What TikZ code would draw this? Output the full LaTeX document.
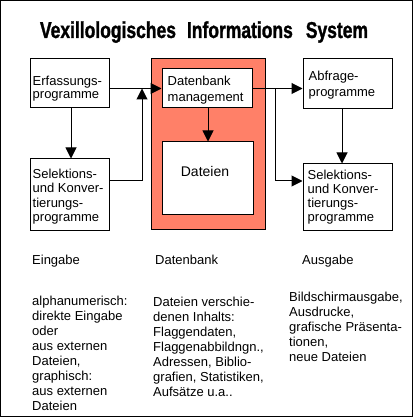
\documentclass[tikz,border=0pt]{standalone}
\usepackage{fontspec}
\setmainfont{Liberation Sans}
\newfontfamily\titlefont[FakeStretch=0.76,FakeBold=1.2]{Liberation Sans}
\usetikzlibrary{arrows.meta,calc}
\definecolor{dbred}{RGB}{255,128,104}
\tikzset{
  box/.style={draw=black, line width=1pt, fill=white, minimum width=#1, inner sep=0pt},
  conn/.style={draw=black, line width=1pt},
  arr/.style={conn, -{Triangle[length=11pt,width=11pt]}},
  txt/.style={inner sep=0pt, align=left, font=\fontsize{13}{14.3}\selectfont},
  txtwide/.style={inner sep=0pt, align=left, font=\fontsize{13}{16}\selectfont},
  col/.style={inner sep=0pt, align=left, anchor=north west, font=\fontsize{13}{15}\selectfont},
  head/.style={inner sep=0pt, anchor=base west, font=\fontsize{13}{15}\selectfont}
}
\begin{document}
\begin{tikzpicture}[x=1pt,y=-1pt]
\useasboundingbox (0,0) rectangle (415,419);
\draw[line width=1.2pt] (0.6,0.6) rectangle (412.4,416.2);

% title
\node[inner sep=0pt, anchor=base, font=\titlefont\bfseries\fontsize{23}{26}\selectfont] (title) at (204,38)
  {Vexillologisches\hspace{11pt}Informations\hspace{13pt}System};

% database block
\node[draw=black, line width=1pt, fill=dbred, minimum width=114pt, minimum height=170pt, inner sep=0pt] (red) at (208,144) {};

\node[box=79pt, minimum height=49pt,
  label={[txt, anchor=west, xshift=3pt, yshift=-5pt, font=\fontsize{13}{13.5}\selectfont]west:Erfassungs-\\programme}] (erf) at (69.5,83.5) {};
\node[box=79pt, minimum height=71pt,
  label={[txt, anchor=west, xshift=3pt, yshift=-2pt]west:Selektions-\\und Konver-\\tierungs-\\programme}] (selL) at (69.5,194.5) {};
\node[box=90pt, minimum height=39pt,
  label={[txtwide, anchor=west, xshift=6pt, yshift=-1.5pt]west:Datenbank\\management}] (dbm) at (207,88.5) {};
\node[box=91pt, minimum height=72pt,
  label={[txt, anchor=center, xshift=-2.5pt, yshift=7pt, font=\fontsize{14}{16}\selectfont]center:Dateien}] (dat) at (207.5,178) {};
\node[box=89pt, minimum height=50pt,
  label={[txtwide, anchor=west, xshift=6pt, yshift=-1pt]west:Abfrage-\\programme}] (abf) at (347.5,84) {};
\node[box=89pt, minimum height=66pt,
  label={[txt, anchor=west, xshift=5pt, yshift=0pt, font=\fontsize{13}{14}\selectfont]west:Selektions-\\und Konver-\\tierungs-\\programme}] (selR) at (347.5,197) {};

% connectors
\coordinate (j1) at (142,88.5);
\path (dbm.east) ++(23,0) coordinate (j2);
\draw[arr] (erf.east |- dbm.west) -- (dbm.west);
\draw[arr] ([xshift=1.5pt]erf.south) -- ([xshift=1.5pt]erf.south |- selL.north);
\draw[arr] ([yshift=13.5pt]selL.east) -| (j1);
\draw[arr] ([xshift=1pt]dbm.south) -- ([xshift=1pt]dbm.south |- dat.north);
\draw[arr] (dbm.east) -- (dbm.east -| abf.west);
\draw[arr] (j2) |- ([yshift=16pt]selR.west);
\draw[arr] ([xshift=-5.5pt]abf.south) -- ([xshift=-5.5pt]abf.south |- selR.north);

% headings
\node[head] (hin) at (32,264) {Eingabe};
\node[head] (hdb) at (155,264) {Datenbank};
\node[head] (hout) at (302,264) {Ausgabe};

% columns
\node[col] (cin) at (32,295.5) {alphanumerisch:\\direkte Eingabe\\oder\\aus externen\\Dateien,\\graphisch:\\aus externen\\Dateien};
\node[col] (cdb) at (153,296.5) {Dateien verschie-\\denen Inhalts:\\Flaggendaten,\\Flaggenabbildngn.,\\Adressen, Biblio-\\grafien, Statistiken,\\Aufsätze u.a..};
\node[col] (cout) at (289,291.5) {Bildschirmausgabe,\\Ausdrucke,\\grafische Präsenta-\\tionen,\\neue Dateien};
\end{tikzpicture}
\end{document}
